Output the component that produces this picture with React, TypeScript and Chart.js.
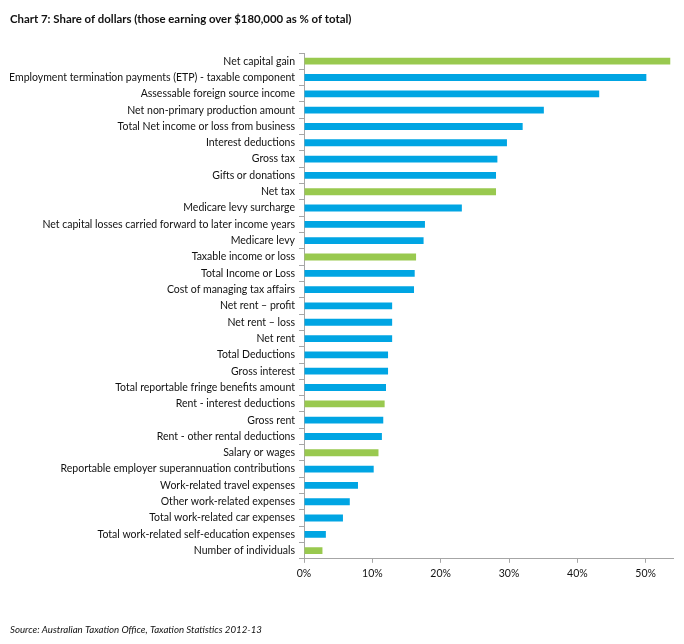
import React, { useEffect, useRef } from "react";
import { Chart, registerables } from "chart.js";

Chart.register(...registerables);

const categories = [
  "Net capital gain",
  "Employment termination payments (ETP) - taxable component",
  "Assessable foreign source income",
  "Net non-primary production amount",
  "Total Net income or loss from business",
  "Interest deductions",
  "Gross tax",
  "Gifts or donations",
  "Net tax",
  "Medicare levy surcharge",
  "Net capital losses carried forward to later income years",
  "Medicare levy",
  "Taxable income or loss",
  "Total Income or Loss",
  "Cost of managing tax affairs",
  "Net rent \u2013 profit",
  "Net rent \u2013 loss",
  "Net rent",
  "Total Deductions",
  "Gross interest",
  "Total reportable fringe benefits amount",
  "Rent - interest deductions",
  "Gross rent",
  "Rent - other rental deductions",
  "Salary or wages",
  "Reportable employer superannuation contributions",
  "Work-related travel expenses",
  "Other work-related expenses",
  "Total work-related car expenses",
  "Total work-related self-education expenses",
  "Number of individuals",
];

const shareValues = [
  53.6, 50.1, 43.2, 35.1, 32.0, 29.7, 28.3, 28.1, 28.1, 23.1,
  17.7, 17.5, 16.4, 16.2, 16.1, 12.9, 12.9, 12.9, 12.3, 12.3,
  12.0, 11.8, 11.6, 11.4, 10.9, 10.2, 7.9, 6.7, 5.7, 3.2, 2.7,
];

// true = highlighted (green)
const highlighted = [
  true, false, false, false, false, false, false, false, true, false,
  false, false, true, false, false, false, false, false, false, false,
  false, true, false, false, true, false, false, false, false, false, true,
];

const xTickValues = [0, 10, 20, 30, 40, 50];
const xMax = 54;

const BLUE = "#00A5E3";
const GREEN = "#99C94F";
const FONT = "Lato";

export default function App() {
  const ref = useRef<HTMLCanvasElement | null>(null);

  useEffect(() => {
    if (!ref.current) return;
    const chart = new Chart(ref.current, {
      type: "bar",
      data: {
        labels: categories,
        datasets: [
          {
            data: shareValues,
            backgroundColor: highlighted.map((h) => (h ? GREEN : BLUE)),
            barPercentage: 0.42,
            categoryPercentage: 1,
          },
        ],
      },
      options: {
        indexAxis: "y",
        animation: false,
        responsive: true,
        maintainAspectRatio: false,
        layout: { padding: { left: 10, right: 11, top: 0, bottom: 0 } },
        plugins: {
          legend: { display: false },
          tooltip: { enabled: false },
          title: {
            display: true,
            text: "Chart 7: Share of dollars (those earning over $180,000 as % of total)",
            align: "start",
            color: "#111",
            font: { family: FONT, size: 11.4, weight: "bold", lineHeight: 1.1 },
            padding: { top: 13, bottom: 27.5 },
          },
          subtitle: {
            display: true,
            position: "bottom",
            text: "Source: Australian Taxation Office, Taxation Statistics 2012-13",
            align: "start",
            color: "#111",
            font: { family: FONT, size: 9.7, style: "italic", lineHeight: 1.1 },
            padding: { top: 35.5, bottom: 9 },
          },
        },
        scales: {
          x: {
            type: "linear",
            min: 0,
            max: xMax,
            border: { color: "#A6A6A6", width: 1 },
            grid: {
              drawOnChartArea: false,
              drawTicks: true,
              tickLength: 4,
              color: "#A6A6A6",
            },
            ticks: {
              stepSize: 10,
              padding: 4,
              color: "#111",
              font: { family: FONT, size: 10.5 },
              callback: (v: any) => v + "%",
            },
            afterBuildTicks: (scale: any) => {
              scale.ticks = xTickValues.map((v) => ({ value: v }));
            },
            afterFit: (scale: any) => {
              scale.height = 30;
            },
          },
          y: {
            type: "category",
            offset: true,
            border: { color: "#A6A6A6", width: 1 },
            grid: {
              offset: true,
              drawOnChartArea: false,
              drawTicks: true,
              tickLength: 5,
              color: "#A6A6A6",
            },
            ticks: {
              autoSkip: false,
              padding: 4,
              color: "#111",
              font: { family: FONT, size: 10.5 },
            },
            afterFit: (scale: any) => {
              scale.width = 294;
            },
          },
        },
      },
    });
    return () => chart.destroy();
  }, []);

  return (
    <div
      style={{
        position: "absolute",
        left: 0,
        top: 0,
        width: 684,
        height: 644,
        background: "#fff",
      }}
    >
      <canvas ref={ref} />
    </div>
  );
}
